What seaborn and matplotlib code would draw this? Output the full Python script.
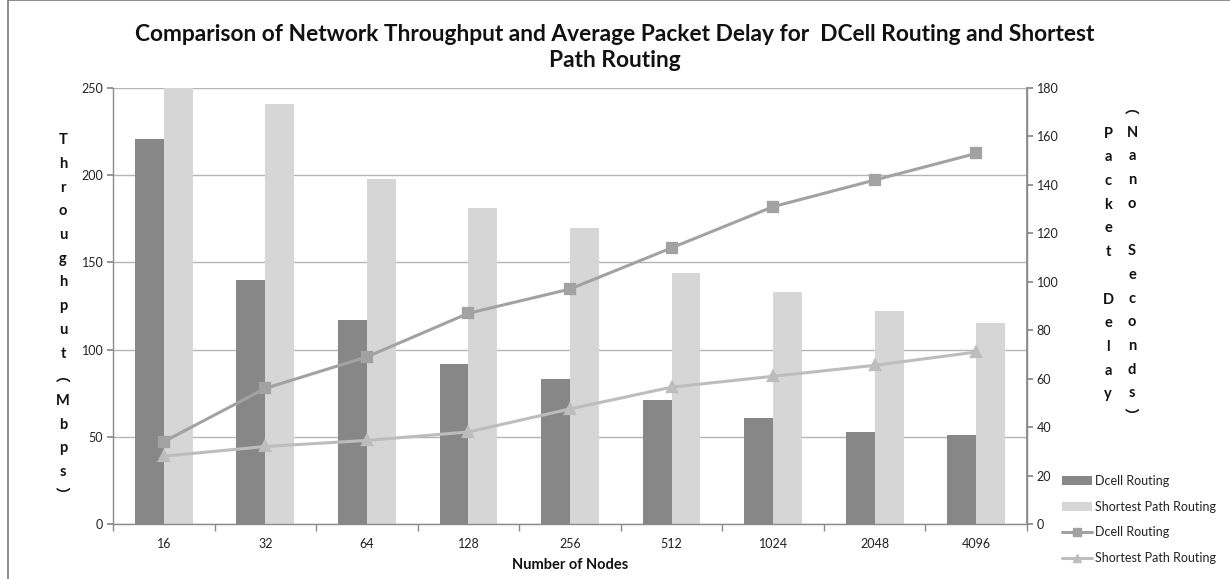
import matplotlib
matplotlib.use("Agg")
import matplotlib.pyplot as plt
import seaborn as sns
import pandas as pd
from matplotlib.patches import Patch, Rectangle
from matplotlib.lines import Line2D

nodes = ["16", "32", "64", "128", "256", "512", "1024", "2048", "4096"]
dcell_throughput = [221, 140, 117, 92, 83, 71, 61, 53, 51]
sp_throughput = [250, 241, 198, 181, 170, 144, 133, 122, 115]
dcell_delay = [34, 56, 69, 87, 97, 114, 131, 142, 153]
sp_delay = [28, 32, 34.5, 38, 47.5, 56.5, 61, 65.5, 71]
series = ["Dcell Routing", "Shortest Path Routing"]

sns.set_theme(style="white")
plt.rcParams["font.family"] = ["Lato", "Noto Sans CJK SC", "DejaVu Sans"]

DARK = "#878787"
LIGHT = "#d6d6d6"
LINE1 = "#a2a2a2"
LINE2 = "#bdbdbd"
GRID = "#b4b4b4"
SPINE = "#8a8a8a"
TXT = "#222222"

bars = pd.DataFrame({
    "Nodes": nodes * 2,
    "Throughput": dcell_throughput + sp_throughput,
    "Routing": [series[0]] * len(nodes) + [series[1]] * len(nodes),
})
delays = pd.DataFrame({
    "Nodes": nodes * 2,
    "Delay": dcell_delay + sp_delay,
    "Routing": [series[0]] * len(nodes) + [series[1]] * len(nodes),
})

fig = plt.figure(figsize=(12.3, 5.79), dpi=100)
ax = fig.add_axes([113 / 1230, 1 - 524 / 579, (1027 - 113) / 1230, (524 - 88) / 579])

sns.barplot(data=bars, x="Nodes", y="Throughput", hue="Routing", order=nodes,
            palette=[DARK, LIGHT], width=0.57, gap=0, ax=ax, legend=False,
            saturation=1, errorbar=None)
for p in ax.patches:
    p.set_edgecolor("none")

ax.set_ylim(0, 250)
ax.set_xlim(-0.5, len(nodes) - 0.5)
ax.set_yticks([0, 50, 100, 150, 200, 250])
ax.yaxis.grid(True, color=GRID, linewidth=1)
ax.set_axisbelow(True)
ax.set_xlabel("")
ax.set_ylabel("")
ax.spines["top"].set_visible(False)
for s in ["left", "bottom", "right"]:
    ax.spines[s].set_color(SPINE)
    ax.spines[s].set_linewidth(1)
ax.tick_params(axis="y", which="major", left=True, length=4, color=SPINE,
               labelsize=9, labelcolor=TXT, pad=3)
ax.set_xticks(range(len(nodes)))
ax.set_xticklabels(nodes)
ax.set_xticks([i - 0.5 for i in range(len(nodes) + 1)], minor=True)
ax.tick_params(axis="x", which="major", bottom=True, length=0, labelsize=9,
               labelcolor=TXT, pad=10)
ax.tick_params(axis="x", which="minor", bottom=True, length=5, color=SPINE)

ax2 = ax.twinx()
sns.pointplot(data=delays, x="Nodes", y="Delay", hue="Routing", order=nodes,
              palette=[LINE1, LINE2], markers=["s", "^"], linestyles=["-", "-"],
              dodge=False, errorbar=None, ax=ax2, legend=False,
              markersize=7, linewidth=2.2)
ax2.set_ylim(0, 180)
ax2.set_yticks(range(0, 181, 20))
ax2.set_xlim(-0.5, len(nodes) - 0.5)
ax2.set_ylabel("")
ax2.set_xlabel("")
for s in ["top", "left", "bottom"]:
    ax2.spines[s].set_visible(False)
ax2.spines["right"].set_color(SPINE)
ax2.tick_params(axis="y", right=True, length=4, color=SPINE, labelsize=9,
                labelcolor=TXT, pad=3)
ax2.grid(False)

# Title
fig.text(0.4996, 1 - 47.5 / 579,
         "Comparison of Network Throughput and Average Packet Delay for  DCell Routing and Shortest\nPath Routing",
         ha="center", va="center", fontsize=16.4, fontweight="bold", color="#111111",
         linespacing=1.25)

# X label
fig.text(570 / 1230, 1 - 565 / 579, "Number of Nodes", ha="center", va="center",
         fontsize=10.5, fontweight="bold", color="#111111")

# Stacked axis titles
LS = 1.88
left_title = "\n".join(list("Throughput") + ["\ufe35"] + list("Mbps") + ["\ufe36"])
fig.text(63 / 1230, 1 - 318 / 579, left_title, ha="center", va="center",
         fontsize=10.5, fontweight="bold", color="#111111", linespacing=LS)

right1 = "\n".join(list("Packet") + [" "] + list("Delay"))
fig.text(1108 / 1230, 1 - 264 / 579, right1, ha="center", va="center",
         fontsize=10.5, fontweight="bold", color="#111111", linespacing=LS)
right2 = "\n".join(["\ufe35"] + list("Nano") + [" "] + list("Seconds") + ["\ufe36"])
fig.text(1132 / 1230, 1 - 263 / 579, right2, ha="center", va="center",
         fontsize=10.5, fontweight="bold", color="#111111", linespacing=LS)

# Legend
handles = [
    Patch(facecolor=DARK, edgecolor="none"),
    Patch(facecolor=LIGHT, edgecolor="none"),
    Line2D([0], [0], color=LINE1, marker="s", markersize=6, linewidth=2.2),
    Line2D([0], [0], color=LINE2, marker="^", markersize=6, linewidth=2.2),
]
fig.legend(handles, series + series, loc="center left",
           bbox_to_anchor=(1062 / 1230, 1 - 519.5 / 579), frameon=False,
           fontsize=9, handlelength=2.4, handleheight=0.7, handletextpad=0.25,
           labelspacing=1.1, labelcolor=TXT, borderaxespad=0, borderpad=0)

# Figure border
fig.patches.append(Rectangle((8 / 1230, -0.01), 1.1, 1.0095, transform=fig.transFigure,
                             fill=False, edgecolor="#7a7a7a", linewidth=1.2))

fig.savefig("out.png", dpi=100)
